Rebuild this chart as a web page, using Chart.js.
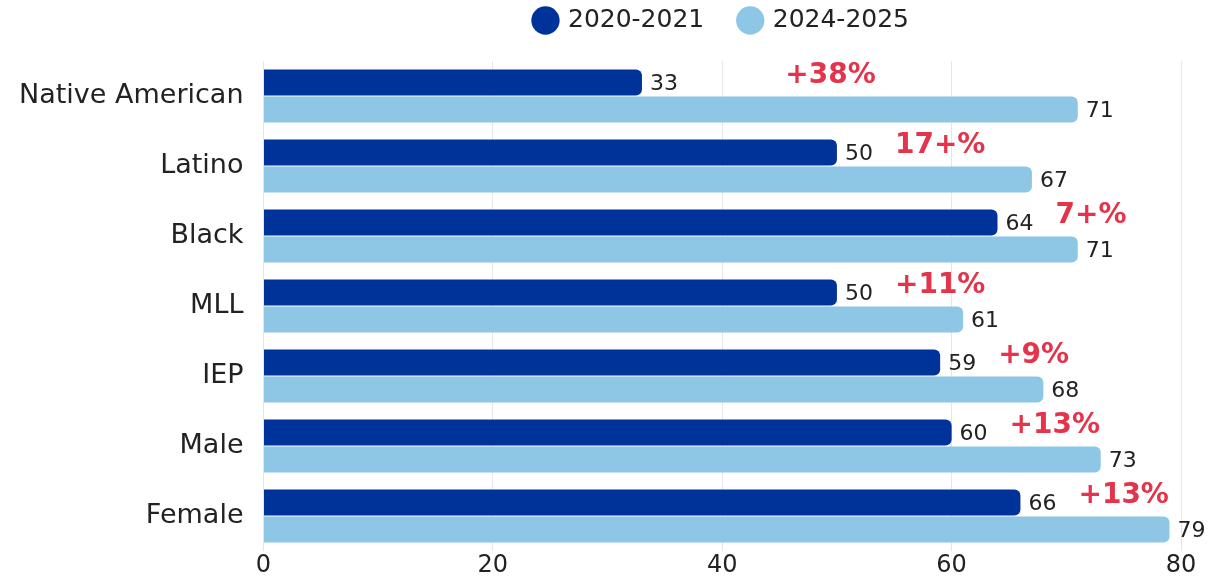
<!DOCTYPE html>
<html>
<head>
<meta charset="utf-8">
<script src="https://cdn.jsdelivr.net/npm/chart.js@4/dist/chart.umd.min.js"></script>
<style>
  html, body { margin: 0; padding: 0; background: #fff; }
  #wrap { width: 1227px; height: 577px; }
</style>
</head>
<body>
<div id="wrap"><canvas id="gapChart"></canvas></div>
<script>
// data
const groups = ["Native American", "Latino", "Black", "MLL", "IEP", "Male", "Female"];
const seriesNames = ["2020-2021", "2024-2025"];
const values2021 = [33, 50, 64, 50, 59, 60, 66];
const values2025 = [71, 67, 71, 61, 68, 73, 79];
const gains = ["+38%", "17+%", "7+%", "+11%", "+9%", "+13%", "+13%"];
const xTicks = [0, 20, 40, 60, 80];

const FONT = "'DejaVu Sans', sans-serif";
const DARK = "#003399";
const LIGHT = "#8ec6e6";

// value labels + red gain labels
const barLabels = {
  id: "barLabels",
  afterDatasetsDraw(chart) {
    const { ctx, scales } = chart;
    ctx.save();
    ctx.font = "22px " + FONT;
    ctx.fillStyle = "#222";
    ctx.textAlign = "left";
    ctx.textBaseline = "middle";
    chart.data.datasets.forEach((ds, i) => {
      chart.getDatasetMeta(i).data.forEach((bar, j) => {
        ctx.fillText(ds.data[j], bar.x + 8, bar.y + 2);
      });
    });
    // gains, to the right of the dark bar
    ctx.font = "bold 28px " + FONT;
    ctx.fillStyle = "#e4344b";
    chart.getDatasetMeta(0).data.forEach((bar, j) => {
      const x = Math.max(bar.x + 58, scales.x.getPixelForValue(45.5));
      ctx.fillText(gains[j], x, bar.y - 7);
    });
    ctx.restore();
  },
};

// more room between legend and bars
const legendSpace = {
  id: "legendSpace",
  afterInit(chart) {
    const fit = chart.legend.fit;
    chart.legend.fit = function () {
      fit.call(this);
      this.height = 89;
    };
  },
};

new Chart(document.getElementById("gapChart"), {
  type: "bar",
  data: {
    labels: groups,
    datasets: [
      { label: seriesNames[0], data: values2021, backgroundColor: DARK },
      { label: seriesNames[1], data: values2025, backgroundColor: LIGHT },
    ],
  },
  options: {
    indexAxis: "y",
    responsive: true,
    maintainAspectRatio: false,
    animation: false,
    layout: { padding: { top: -28, right: 46, bottom: 0, left: 15 } },
    datasets: {
      bar: {
        categoryPercentage: 0.77,
        barPercentage: 0.96,
        borderRadius: { topLeft: 0, bottomLeft: 0, topRight: 6, bottomRight: 6 },
        borderSkipped: false,
      },
    },
    plugins: {
      legend: {
        position: "top",
        fullSize: false,
        labels: {
          usePointStyle: true,
          pointStyle: "circle",
          boxHeight: 20,
          boxWidth: 20,
          padding: 36,
          color: "#222",
          font: { family: FONT, size: 25 },
        },
      },
      tooltip: { enabled: false },
    },
    scales: {
      x: {
        min: 0,
        max: 80,
        afterBuildTicks: (axis) => { axis.ticks = xTicks.map((v) => ({ value: v })); },
        afterFit: (axis) => { axis.height = 26; },
        border: { display: false },
        grid: { color: "#e6e6e6", drawTicks: false },
        ticks: { color: "#222", padding: 0, font: { family: FONT, size: 24 } },
      },
      y: {
        border: { display: false },
        grid: {
          color: "transparent",
          tickColor: "transparent",
          drawOnChartArea: false,
          drawTicks: true,
          tickLength: 16,
        },
        ticks: { color: "#222", padding: 4, font: { family: FONT, size: 27 } },
      },
    },
  },
  plugins: [barLabels, legendSpace],
});
</script>
</body>
</html>
